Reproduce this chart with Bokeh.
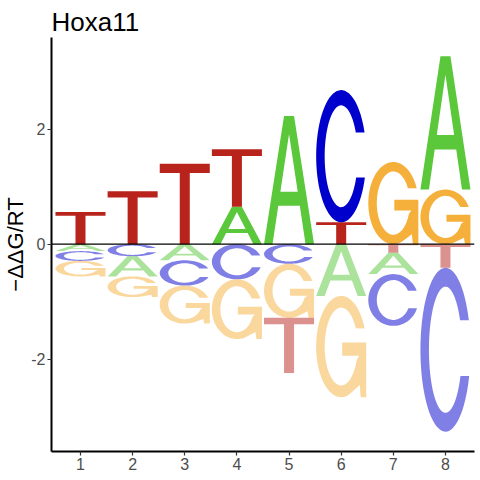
import numpy as np
from bokeh.plotting import figure
from bokeh.models import Range1d, FixedTicker, Span, ColumnDataSource
from bokeh.embed import file_html
from bokeh.resources import INLINE

# ---- data (energy logo, -ddG/RT) ----
title_text = "Hoxa11"
y_label = "\u2212\u0394\u0394G/RT"
positions = [1, 2, 3, 4, 5, 6, 7, 8]
A = [-0.12, -0.35, -0.28, 0.65, 2.23, -0.90, -0.37, 2.32]
C = [-0.17, -0.21, -0.44, -0.61, -0.34, 2.30, -0.90, -2.85]
G = [-0.27, -0.36, -0.66, -1.04, -0.94, -1.76, 1.43, 0.95]
T = [0.56, 0.92, 1.40, 1.00, -0.96, 0.38, -0.15, -0.41]
y_ticks = [-2, 0, 2]

colors = {"A": "#5AC83A", "C": "#0000CC", "G": "#F5B03C", "T": "#B8241C"}
FONT = "Liberation Sans"


# ---- letter outlines in a unit box ----
def arc(rx, ry, t0, t1, n=70):
    t = np.radians(np.linspace(t0, t1, n))
    return list(0.5 + rx * np.cos(t)), list(0.5 + ry * np.sin(t))


def shape_T():
    xs = [0, 1, 1, 0.6, 0.6, 0.4, 0.4, 0]
    ys = [1, 1, 0.885, 0.885, 0, 0, 0.885, 0.885]
    return [(xs, ys)]


def shape_A():
    xs = [0, 0.17, 0.285, 0.715, 0.83, 1, 0.6, 0.4]
    ys = [0, 0, 0.30, 0.30, 0, 0, 1, 1]
    hx = [0.327, 0.673, 0.5]
    hy = [0.41, 0.41, 0.86]
    return [(xs, ys), (hx, hy)]


def shape_C():
    ox, oy = arc(0.5, 0.5, 21, 341.3)
    ix, iy = arc(0.33, 0.385, 335.4, 27.9)
    return [(ox + ix, oy + iy)]


def shape_G():
    ox, oy = arc(0.5, 0.5, 21, 290)
    sx = [0.87, 0.89, 1.0, 1.0, 0.52, 0.52, 0.86]
    sy = [0.12, 0.0, 0.0, 0.54, 0.54, 0.41, 0.41]
    ix, iy = arc(0.33, 0.385, 340, 27.9)
    return [(ox + sx + ix, oy + sy + iy)]


shapes = {"A": shape_A(), "C": shape_C(), "G": shape_G(), "T": shape_T()}
W = 0.96

vals = {"A": A, "C": C, "G": G, "T": T}
xs_all, ys_all, fills, alphas = [], [], [], []
for i, pos in enumerate(positions):
    entries = [(k, vals[k][i]) for k in "ACGT"]
    pos_e = sorted([e for e in entries if e[1] > 0], key=lambda e: e[1])
    neg_e = sorted([e for e in entries if e[1] < 0], key=lambda e: -e[1])
    cum = 0.0
    for k, v in pos_e:
        rings = []
        for (ux, uy) in shapes[k]:
            rings.append(([pos - W / 2 + W * u for u in ux],
                          [cum + v * w for w in uy]))
        xs_all.append([[r[0] for r in rings]])
        ys_all.append([[r[1] for r in rings]])
        fills.append(colors[k]); alphas.append(1.0)
        cum += v
    cum = 0.0
    for k, v in neg_e:
        h = -v
        base = cum - h
        rings = []
        for (ux, uy) in shapes[k]:
            rings.append(([pos - W / 2 + W * u for u in ux],
                          [base + h * w for w in uy]))
        xs_all.append([[r[0] for r in rings]])
        ys_all.append([[r[1] for r in rings]])
        fills.append(colors[k]); alphas.append(0.5)
        cum = base

src = ColumnDataSource(dict(xs=xs_all, ys=ys_all, fill=fills, alpha=alphas))

p = figure(frame_width=423, frame_height=414,
           x_range=Range1d(0.444, 8.557), y_range=Range1d(-3.605, 3.595),
           output_backend="svg", toolbar_location=None,
           min_border_left=51, min_border_top=37, min_border_right=4,
           min_border_bottom=0, title=title_text)
p.outline_line_color = None
p.xgrid.visible = False
p.ygrid.visible = False
p.background_fill_color = "white"
p.border_fill_color = "white"

p.title.text_font = FONT
p.title.text_font_size = "26px"
p.title.text_font_style = "normal"
p.title.text_color = "black"
p.title.align = "left"
p.title.vertical_align = "middle"
p.title.standoff = 0
p.title.offset = 0

p.multi_polygons(xs="xs", ys="ys", fill_color="fill", fill_alpha="alpha",
                 line_color=None, source=src)
p.add_layout(Span(location=0, dimension="width", line_color="black",
                  line_width=1.2))

for ax in (p.xaxis[0], p.yaxis[0]):
    ax.axis_line_color = "black"
    ax.axis_line_width = 2
    ax.major_tick_line_color = "#333333"
    ax.major_tick_line_width = 1.2
    ax.major_tick_out = 4
    ax.major_tick_in = 0
    ax.minor_tick_line_color = None
    ax.major_label_text_color = "#4D4D4D"
    ax.major_label_text_font = FONT
    ax.major_label_text_font_size = "16px"
    ax.major_label_standoff = 2
p.xaxis.ticker = FixedTicker(ticks=positions)
p.yaxis.ticker = FixedTicker(ticks=y_ticks)
p.yaxis.major_label_overrides = {-2: "-2", 0: "0", 2: "2"}
p.yaxis.axis_label = y_label
p.yaxis.axis_label_text_font = FONT
p.yaxis.axis_label_text_font_size = "22px"
p.yaxis.axis_label_text_font_style = "normal"
p.yaxis.axis_label_text_color = "black"
p.yaxis.axis_label_standoff = 0

open("out.html", "w").write(file_html(p, INLINE))
